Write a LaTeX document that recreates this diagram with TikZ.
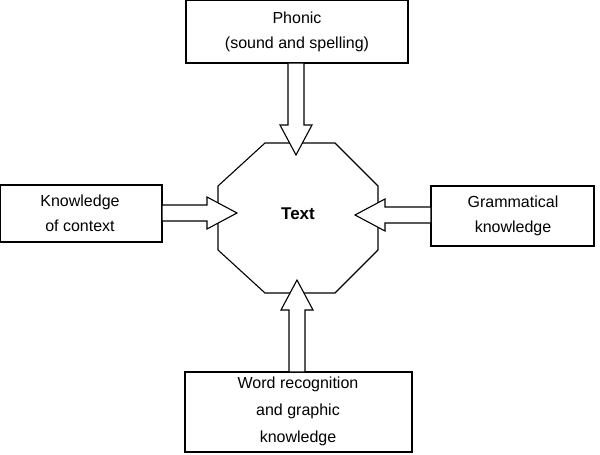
\documentclass[tikz,border=0pt]{standalone}
\usepackage{fontspec}
\setmainfont{Liberation Sans}
\begin{document}
\begin{tikzpicture}[x=1pt,y=-1pt,line width=1.1pt,
  label/.style={align=center,font=\fontsize{16}{25}\selectfont},
  pics/barrow/.style={code={
    \draw[fill=white] (0,-8)--(#1-30,-8)--(#1-30,-16)--(#1,0)--(#1-30,16)--(#1-30,8)--(0,8)--cycle;}}]
  \useasboundingbox (0,0) rectangle (600,455);

  % the octagon in the middle
  \draw (265,143)--(335,143)--(378,186)--(378,250)--(335,293)--(265,293)--(218,250)--(218,186)--cycle;
  \node[font=\fontsize{17}{20}\selectfont\bfseries] (text) at (298,214) {Text};

  % the four kinds of knowledge
  \draw (186,0) rectangle (408,63);
  \node[label] (phonic) at (297,32) {Phonic\\(sound and spelling)};
  \draw (0,185) rectangle (162,242);
  \node[label] (context) at (80,213) {Knowledge\\of context};
  \draw (431,186) rectangle (594,246);
  \node[label] (gram) at (513,216) {Grammatical\\knowledge};
  \draw (185,372) rectangle (412,452);
  \node[label,font=\fontsize{16}{27}\selectfont] (word) at (298,411) {Word recognition\\and graphic\\knowledge};

  % block arrows
  \pic[rotate=-90] at (296,63) {barrow=92};
  \pic at (162,213) {barrow=75};
  \pic[rotate=180] at (431,215) {barrow=76};
  \pic[rotate=90] at (297,372) {barrow=92};
\end{tikzpicture}
\end{document}
